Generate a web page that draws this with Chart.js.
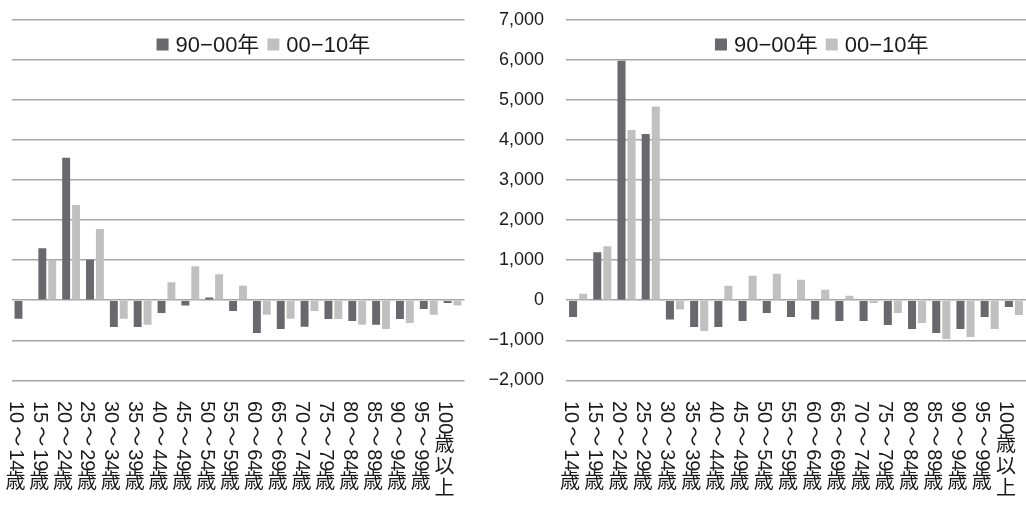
<!DOCTYPE html>
<html lang="ja">
<head>
<meta charset="utf-8">
<title>年齢階級別 増減</title>
<script src="https://cdn.jsdelivr.net/npm/chart.js@4.4.1/dist/chart.umd.min.js"></script>
<style>
  html, body { margin: 0; padding: 0; background: #ffffff; }
  #wrap { position: relative; width: 1026px; height: 506px; overflow: hidden; }
  #wrap canvas { position: absolute; top: 0; }
  #left { left: 0; }
  #right { left: 480px; }
</style>
</head>
<body>
<div id="wrap">
  <canvas id="left" width="480" height="506"></canvas>
  <canvas id="right" width="546" height="506"></canvas>
</div>
<script>
// Age groups on the category axis
const ageGroups = [
  '10～14歳', '15～19歳', '20～24歳', '25～29歳', '30～34歳', '35～39歳', '40～44歳',
  '45～49歳', '50～54歳', '55～59歳', '60～64歳', '65～69歳', '70～74歳', '75～79歳',
  '80～84歳', '85～89歳', '90～94歳', '95～99歳', '100歳以上'
];

const seriesNames = ['90−00年', '00−10年'];

// Left panel (no value labels on its axis)
const left9000 = [-0.46, 1.30, 3.56, 1.01, -0.67, -0.67, -0.32, -0.13, 0.07, -0.27,
                  -0.82, -0.72, -0.66, -0.47, -0.52, -0.61, -0.47, -0.22, -0.07];
const left0010 = [0.00, 1.01, 2.38, 1.78, -0.46, -0.61, 0.45, 0.85, 0.65, 0.36,
                  -0.36, -0.46, -0.27, -0.47, -0.61, -0.72, -0.57, -0.36, -0.13];
const leftTickValues = [-2, -1, 0, 1, 2, 3, 4, 5, 6, 7];

// Right panel
const right9000 = [-420, 1200, 5980, 4150, -480, -670, -670, -520, -320, -420,
                   -480, -520, -520, -620, -720, -820, -720, -420, -170];
const right0010 = [160, 1350, 4250, 4840, -230, -770, 360, 610, 660, 510,
                   260, 110, -70, -320, -570, -970, -920, -720, -370];
const rightTickValues = [-2000, -1000, 0, 1000, 2000, 3000, 4000, 5000, 6000, 7000];
const rightTickLabels = ['−2,000', '−1,000', '0', '1,000', '2,000', '3,000',
                         '4,000', '5,000', '6,000', '7,000'];

const DARK = '#69696d';
const LIGHT = '#c0c0c0';
const GRID = '#a6a6a6';
const INK = '#1a1a1a';
const LATIN = '"Liberation Sans", Arial, "Noto Sans CJK JP", sans-serif';

// Category labels set in a vertical column: digits and the wave dash lie on
// their side, kanji stand upright.
const verticalLabels = {
  id: 'verticalLabels',
  afterDraw(chart, args, opts) {
    const ctx = chart.ctx;
    const xs = chart.scales.x;
    ctx.save();
    ctx.fillStyle = opts.color;
    ctx.font = opts.size + 'px ' + LATIN;
    chart.data.labels.forEach((label, i) => {
      const cx = xs.getPixelForValue(i) + opts.shift;
      let y = opts.top;
      const runs = label.match(/[0-9]+|[^0-9]/g) || [];
      runs.forEach(run => {
        if (/^[0-9]+$/.test(run)) {
          // digits turned on their side
          const w = ctx.measureText(run).width;
          ctx.save();
          ctx.translate(cx, y);
          ctx.rotate(Math.PI / 2);
          ctx.textAlign = 'left';
          ctx.textBaseline = 'middle';
          ctx.fillText(run, 0, 0);
          ctx.restore();
          y += w;
        } else if (run === '～' || run === '~') {
          // wave dash turned on its side, centred in a wider slot
          ctx.save();
          ctx.translate(cx, y + opts.dashStep / 2);
          ctx.rotate(Math.PI / 2);
          ctx.textAlign = 'center';
          ctx.textBaseline = 'middle';
          ctx.fillText(run, 0, 0);
          ctx.restore();
          y += opts.dashStep;
        } else {
          ctx.textAlign = 'center';
          ctx.textBaseline = 'middle';
          ctx.fillText(run, cx, y + opts.kanjiStep / 2);
          y += opts.kanjiStep;
        }
      });
    });
    ctx.restore();
  }
};

// Legend placed inside the plot, near the top
const innerLegend = {
  id: 'innerLegend',
  afterDraw(chart, args, opts) {
    const ctx = chart.ctx;
    const area = chart.chartArea;
    ctx.save();
    ctx.font = opts.size + 'px ' + LATIN;
    const items = chart.data.datasets.map(d => ({
      text: d.label, color: d.backgroundColor, w: ctx.measureText(d.label).width
    }));
    const total = items.reduce((s, it) => s + opts.box + opts.gap + it.w, 0)
                + opts.spacing * (items.length - 1);
    let x = area.left + area.width * opts.anchor - total / 2;
    const y = opts.y;
    items.forEach(it => {
      ctx.fillStyle = it.color;
      ctx.fillRect(x, y - opts.box / 2, opts.box, opts.box);
      x += opts.box + opts.gap;
      ctx.fillStyle = opts.color;
      ctx.textAlign = 'left';
      ctx.textBaseline = 'middle';
      ctx.fillText(it.text, x, y + 1);
      x += it.w + opts.spacing;
    });
    ctx.restore();
  }
};

function makeChart(canvasId, cfg) {
  return new Chart(document.getElementById(canvasId), {
    type: 'bar',
    data: {
      labels: ageGroups,
      datasets: [
        { label: seriesNames[0], data: cfg.a, backgroundColor: DARK },
        { label: seriesNames[1], data: cfg.b, backgroundColor: LIGHT }
      ]
    },
    options: {
      responsive: false,
      animation: false,
      devicePixelRatio: 1,
      categoryPercentage: 0.83,
      barPercentage: 0.8,
      layout: { padding: cfg.padding },
      plugins: {
        legend: { display: false },
        tooltip: { enabled: false },
        verticalLabels: { top: 401, size: 20, dashStep: 26, kanjiStep: 22, shift: -8, color: INK },
        innerLegend: { y: 44.5, size: 22, box: 12, gap: 7, spacing: 8, anchor: 0.556, color: INK }
      },
      scales: {
        x: { display: false },
        y: {
          min: cfg.ticks[0],
          max: cfg.ticks[cfg.ticks.length - 1],
          afterBuildTicks: scale => { scale.ticks = cfg.ticks.map(v => ({ value: v })); },
          afterFit: scale => {
            scale.width = cfg.axisWidth;
            scale.paddingTop = 0;
            scale.paddingBottom = 0;
          },
          border: { display: false },
          grid: { color: GRID, lineWidth: 1.5, drawTicks: false },
          ticks: {
            display: cfg.showTicks,
            padding: 22,
            color: INK,
            font: { family: LATIN, size: 18 },
            callback: (v, i) => cfg.labels ? cfg.labels[i] : ''
          }
        }
      }
    },
    plugins: [verticalLabels, innerLegend]
  });
}

makeChart('left', {
  a: left9000, b: left0010, ticks: leftTickValues, labels: null, showTicks: false,
  axisWidth: 0, padding: { left: 11.5, right: 15.5, top: 20, bottom: 125.7 }
});

makeChart('right', {
  a: right9000, b: right0010, ticks: rightTickValues, labels: rightTickLabels, showTicks: true,
  axisWidth: 86, padding: { left: 0, right: 0, top: 20, bottom: 125.7 }
});
</script>
</body>
</html>
